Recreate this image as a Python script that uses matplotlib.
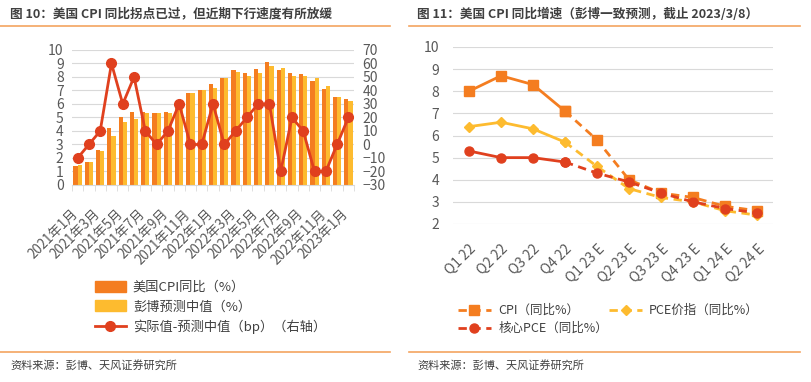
import numpy as np
import matplotlib
matplotlib.use("Agg")
from matplotlib import pyplot as plt
from matplotlib import transforms
from matplotlib.patches import Patch
from matplotlib.lines import Line2D

plt.rcParams['font.family'] = ['Noto Sans CJK SC', 'DejaVu Sans']

# ---------------- data: left panel ----------------
months = ["2021年1月", "2021年2月", "2021年3月", "2021年4月", "2021年5月", "2021年6月",
          "2021年7月", "2021年8月", "2021年9月", "2021年10月", "2021年11月", "2021年12月",
          "2022年1月", "2022年2月", "2022年3月", "2022年4月", "2022年5月", "2022年6月",
          "2022年7月", "2022年8月", "2022年9月", "2022年10月", "2022年11月", "2022年12月",
          "2023年1月"]
cpi_actual = [1.4, 1.7, 2.6, 4.2, 5.0, 5.4, 5.4, 5.3, 5.4, 6.2, 6.8, 7.0,
              7.5, 7.9, 8.5, 8.3, 8.6, 9.1, 8.5, 8.3, 8.2, 7.7, 7.1, 6.5, 6.4]
cpi_forecast = [1.5, 1.7, 2.5, 3.6, 4.7, 4.9, 5.3, 5.3, 5.3, 5.9, 6.8, 7.0,
                7.2, 7.9, 8.4, 8.1, 8.3, 8.8, 8.7, 8.1, 8.1, 7.9, 7.3, 6.5, 6.2]
surprise_bp = [-10, 0, 10, 60, 30, 50, 10, 0, 10, 30, 0, 0,
               30, 0, 10, 20, 30, 30, -20, 20, 10, -20, -20, 0, 20]

# ---------------- data: right panel ----------------
quarters = ["Q1 22", "Q2 22", "Q3 22", "Q4 22", "Q1 23 E", "Q2 23 E",
            "Q3 23 E", "Q4 23 E", "Q1 24 E", "Q2 24 E"]
cpi_q = [8.0, 8.7, 8.3, 7.1, 5.8, 4.0, 3.4, 3.2, 2.8, 2.6]
pce_q = [6.4, 6.6, 6.3, 5.7, 4.6, 3.6, 3.2, 3.0, 2.6, 2.4]
core_pce_q = [5.3, 5.0, 5.0, 4.8, 4.3, 3.9, 3.4, 3.0, 2.7, 2.5]
n_hist = 4  # first 4 quarters are actual data

ORANGE = "#F47D20"
YELLOW = "#FDBB2F"
RED = "#E0401E"
TXT = "#404040"
TICK = "#595959"
GRID = "#D9D9D9"
RULE = "#F4A460"

W, H = 812, 382
fig = plt.figure(figsize=(W / 100, H / 100), dpi=100)


def box(x0, y0, x1, y1):
    return [x0 / W, 1 - y1 / H, (x1 - x0) / W, (y1 - y0) / H]


# ---------------- headers / footers ----------------
fig.text(10 / W, 1 - 14 / H, "图 10：美国 CPI 同比拐点已过，但近期下行速度有所放缓",
         fontsize=9.1, fontweight="bold", color=TXT, va="center", ha="left")
fig.text(417 / W, 1 - 14 / H, "图 11：美国 CPI 同比增速（彭博一致预测，截止 2023/3/8）",
         fontsize=9.1, fontweight="bold", color=TXT, va="center", ha="left")
for x0, x1 in [(0, 390), (409, 800)]:
    fig.add_artist(Line2D([x0 / W, x1 / W], [1 - 26 / H, 1 - 26 / H], color=RULE, lw=1.2))
    fig.add_artist(Line2D([x0 / W, x1 / W], [1 - 352 / H, 1 - 352 / H], color=RULE, lw=1.2))
fig.text(10 / W, 1 - 366 / H, "资料来源：彭博、天风证券研究所", fontsize=8, color=TXT, va="center")
fig.text(417 / W, 1 - 366 / H, "资料来源：彭博、天风证券研究所", fontsize=8, color=TXT, va="center")

# ---------------- left panel ----------------
ax1 = fig.add_axes(box(72, 50, 354, 185))
x = np.arange(len(months))
bw = 0.37
ax1.bar(x - bw / 2, cpi_actual, width=bw, color=ORANGE, zorder=2)
ax1.bar(x + bw / 2, cpi_forecast, width=bw, color=YELLOW, zorder=2)
ax1.set_xlim(-0.5, len(months) - 0.5)
ax1.set_ylim(0, 10)
ax1.set_yticks(np.arange(0, 11, 1))
ax1.grid(axis="y", color=GRID, lw=0.8, zorder=0)
ax1.set_xticks(x[::2])
ax1.set_xticklabels(months[::2], rotation=45, ha="right", rotation_mode="anchor")
ax1.set_xticks(np.arange(-0.5, len(months), 1), minor=True)
ax1.tick_params(axis="x", which="major", length=0, pad=10, labelsize=9.6, labelcolor=TICK)
ax1.tick_params(axis="x", which="minor", length=4, color=GRID)
ax1.tick_params(axis="y", length=0, labelsize=10, labelcolor=TICK, pad=6)
shift = transforms.ScaledTranslation(-0.07, -0.08, fig.dpi_scale_trans)
for lab in ax1.get_xticklabels():
    lab.set_transform(lab.get_transform() + shift)
for s in ["top", "right", "left"]:
    ax1.spines[s].set_visible(False)
ax1.spines["bottom"].set_color(GRID)

ax1r = ax1.twinx()
ax1r.plot(x, surprise_bp, color=RED, lw=2, marker="o", ms=7, zorder=3)
ax1r.set_ylim(-30, 70)
ax1r.set_yticks(np.arange(-30, 71, 10))
ax1r.tick_params(axis="y", length=0, labelsize=10, labelcolor=TICK, pad=6)
for s in ax1r.spines.values():
    s.set_visible(False)

h1 = [Patch(color=ORANGE), Patch(color=YELLOW),
      Line2D([], [], color=RED, lw=2, marker="o", ms=7)]
l1 = ["美国CPI同比（%）", "彭博预测中值（%）", "实际值-预测中值（bp）（右轴）"]
fig.legend(h1, l1, loc="upper left", bbox_to_anchor=(88 / W, 1 - 274 / H),
           frameon=False, fontsize=9.5, labelcolor=TXT, handlelength=2.4,
           handleheight=0.9, labelspacing=0.5, borderpad=0, handletextpad=0.5)

# ---------------- right panel ----------------
ax2 = fig.add_axes(box(453, 47, 773, 224))
xq = np.arange(len(quarters))
series = [(cpi_q, ORANGE, "s", 6.5), (pce_q, YELLOW, "D", 5), (core_pce_q, RED, "o", 6.5)]
for vals, col, mk, ms in series:
    ax2.plot(xq[n_hist - 1:], vals[n_hist - 1:], color=col, lw=2, ls=(0, (3, 2)),
             marker=mk, ms=ms, zorder=3)
    ax2.plot(xq[:n_hist], vals[:n_hist], color=col, lw=2, marker=mk, ms=ms, zorder=4)
ax2.set_xlim(-0.5, len(quarters) - 0.5)
ax2.set_ylim(2, 10)
ax2.set_yticks(np.arange(2, 11, 1))
ax2.grid(axis="y", color=GRID, lw=0.8, zorder=0)
ax2.set_xticks(xq)
ax2.set_xticklabels(quarters, rotation=45, ha="right", rotation_mode="anchor")
ax2.tick_params(axis="x", length=0, pad=13, labelsize=10, labelcolor=TICK)
ax2.tick_params(axis="y", length=0, labelsize=10, labelcolor=TICK, pad=10)
for s in ax2.spines.values():
    s.set_visible(False)

h2 = [Line2D([], [], color=ORANGE, lw=2, ls=(0, (3, 2)), marker="s", ms=6.5),
      Line2D([], [], color=RED, lw=2, ls=(0, (3, 2)), marker="o", ms=6.5),
      Line2D([], [], color=YELLOW, lw=2, ls=(0, (3, 2)), marker="D", ms=5)]
l2 = ["CPI（同比%）", "核心PCE（同比%）", "PCE价指（同比%）"]
fig.legend(h2, l2, loc="upper left", bbox_to_anchor=(452 / W, 1 - 298 / H), ncol=2,
           frameon=False, fontsize=9, labelcolor=TXT, handlelength=2.6,
           labelspacing=0.4, borderpad=0, handletextpad=0.6, columnspacing=0.1)

fig.savefig("out.png", dpi=100)
